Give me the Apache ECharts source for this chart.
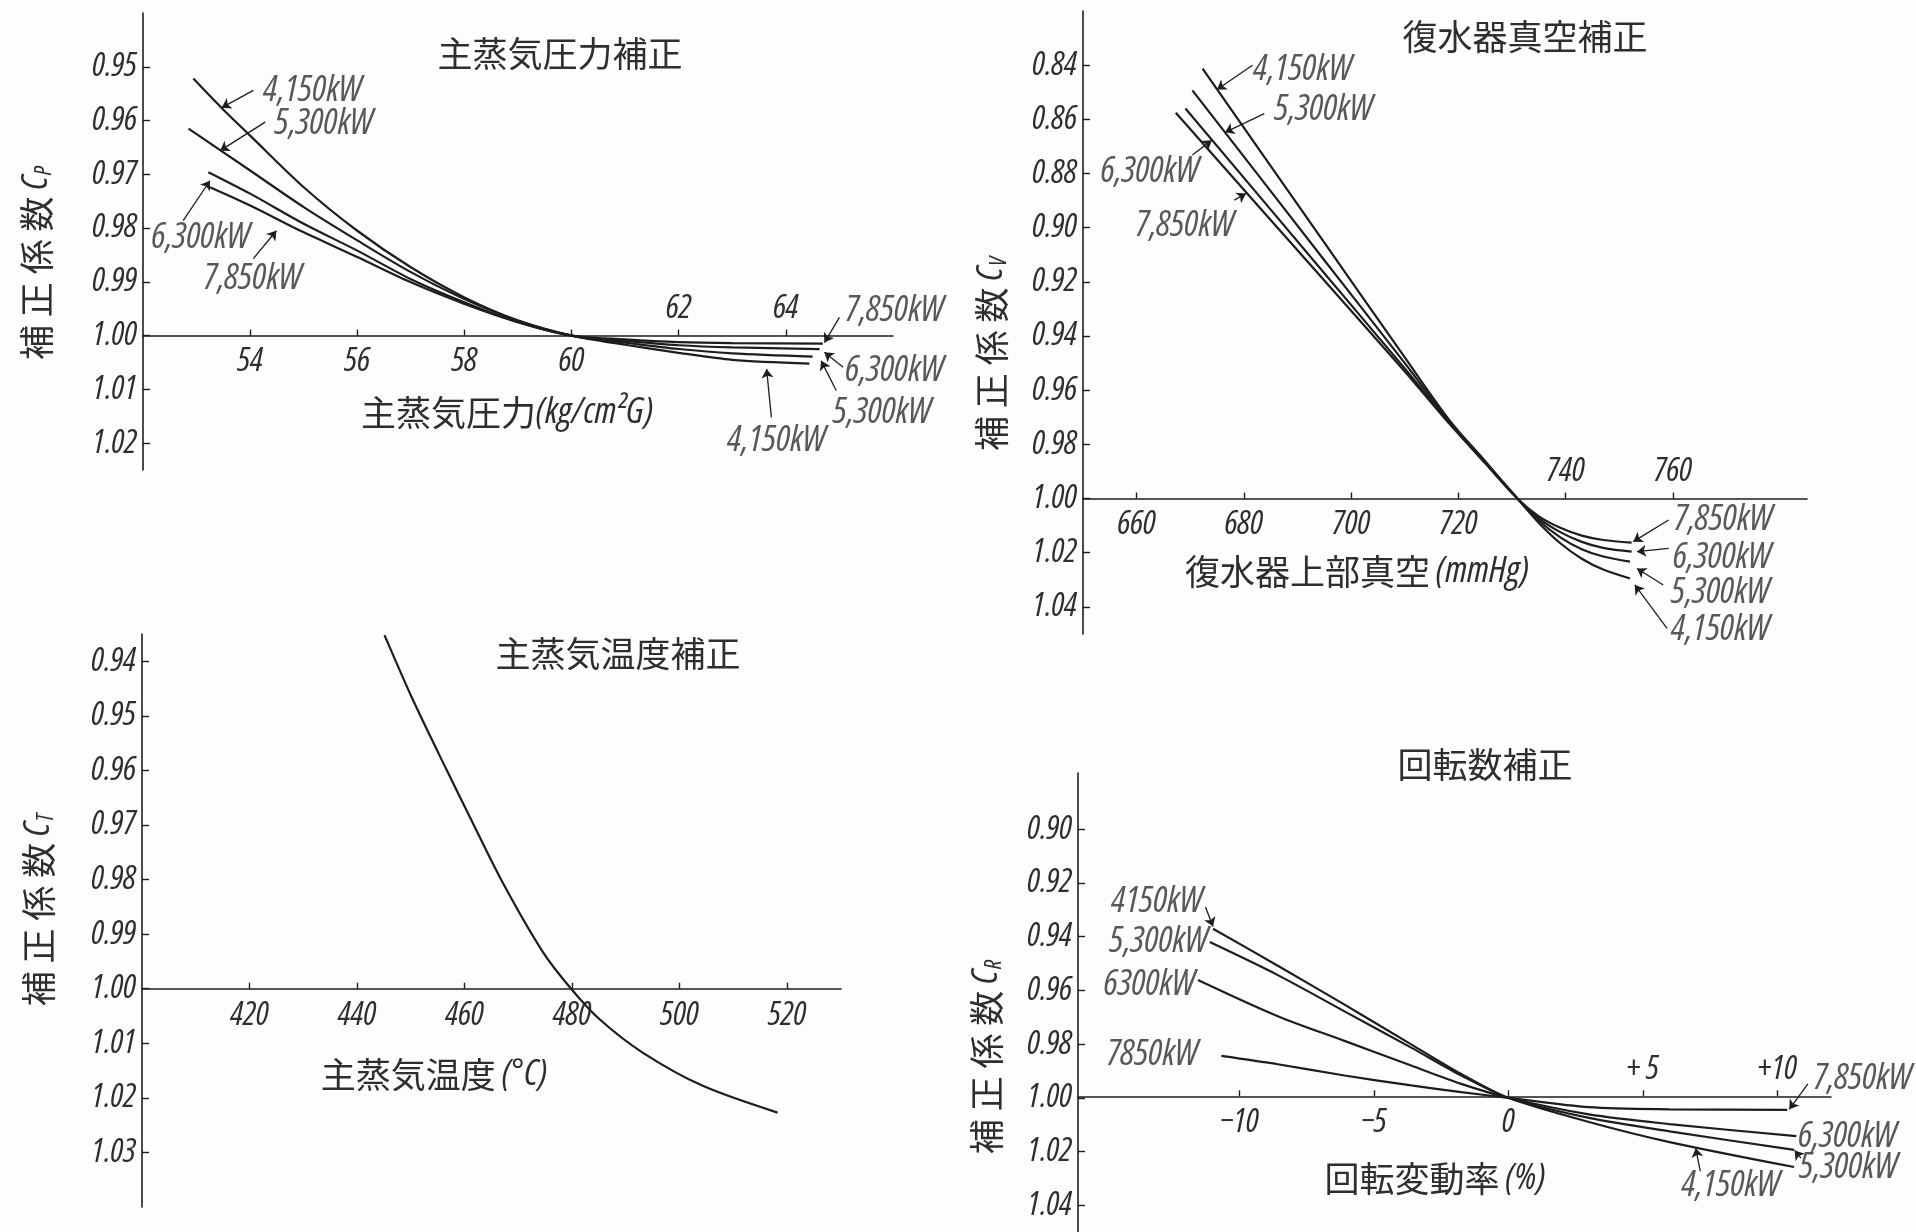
<!DOCTYPE html>
<html>
<head>
<meta charset="utf-8">
<title>補正係数曲線</title>
<script src="https://cdn.jsdelivr.net/npm/echarts@6/dist/echarts.min.js"></script>
<style>
  html, body { margin: 0; padding: 0; background: #fdfdfd; }
  #main { width: 1916px; height: 1232px; }
</style>
</head>
<body>
<div id="main"></div>
<script>
// ---- 主蒸気圧力補正 (Cp) ----
const cpX4150 = [52.94, 53.5, 54, 55, 56, 57, 58, 59, 60, 61, 62, 63, 64.44];
const cpY4150 = [0.9522, 0.958, 0.9628, 0.9724, 0.9805, 0.9873, 0.9929, 0.9972, 1.0, 1.0017, 1.0032, 1.0045, 1.0052];
const cpX5300 = [52.85, 54, 55, 56, 57, 58, 59, 60, 61, 62, 63, 64.5];
const cpY5300 = [0.9615, 0.9693, 0.9761, 0.9823, 0.9882, 0.9932, 0.9972, 1.0, 1.0013, 1.0025, 1.0033, 1.0039];
const cpX6300 = [53.22, 54, 55, 56, 57, 58, 59, 60, 61, 62, 63, 64.63];
const cpY6300 = [0.9696, 0.9736, 0.9792, 0.9842, 0.9895, 0.9938, 0.9975, 1.0, 1.001, 1.0018, 1.0022, 1.0025];
const cpX7850 = [53.25, 54, 55, 56, 57, 58, 59, 60, 61, 62, 63, 64.69];
const cpY7850 = [0.9724, 0.9758, 0.9808, 0.9854, 0.9901, 0.9941, 0.9975, 1.0, 1.0007, 1.0012, 1.0014, 1.0015];
const cpXTicks = [54, 56, 58, 60, 62, 64];
const cpXBelow = [54, 56, 58, 60];
const cpXAbove = [62, 64];
const cpYTicks = [0.95, 0.96, 0.97, 0.98, 0.99, 1.00, 1.01, 1.02];
const cpNoteText = ['4,150kW', '5,300kW', '6,300kW', '7,850kW', '7,850kW', '6,300kW', '5,300kW', '4,150kW'];
const cpNoteX = [55.17, 55.38, 53.08, 54.05, 66.03, 66.03, 65.8, 63.83];
const cpNoteY = [0.9544, 0.9606, 0.9818, 0.9894, 0.9953, 1.0065, 1.0143, 1.0195];
const cpLeadFrom = [[54.06, 0.9544], [54.28, 0.9603], [52.75, 0.9786], [54.06, 0.9857], [65.0, 0.9966], [65.07, 1.0059], [64.94, 1.0102], [63.73, 1.0152]];
const cpLeadTo = [[53.47, 0.9576], [53.44, 0.9656], [53.25, 0.9712], [54.49, 0.9805], [64.72, 1.0013], [64.72, 1.0031], [64.66, 1.0047], [63.64, 1.0062]];

// ---- 復水器真空補正 (Cv) ----
const cvX4150 = [672.3, 695, 710, 718.5, 725, 731, 735, 739, 743, 747, 752.0];
const cvY4150 = [0.8413, 0.9055, 0.9479, 0.9715, 0.9862, 1.0, 1.009, 1.0165, 1.0222, 1.0262, 1.0295];
const cvX5300 = [670.4, 695, 710, 718.5, 725, 731, 735, 739, 743, 747, 752.0];
const cvY5300 = [0.8493, 0.912, 0.950, 0.972, 0.9866, 1.0, 1.0082, 1.0143, 1.0187, 1.0214, 1.0233];
const cvX6300 = [669.1, 695, 710, 718.5, 725, 731, 735, 739, 743, 747, 752.3];
const cvY6300 = [0.856, 0.9168, 0.952, 0.9724, 0.9868, 1.0, 1.0073, 1.0124, 1.016, 1.0182, 1.0196];
const cvX7850 = [667.3, 695, 710, 718.5, 725, 731, 735, 739, 743, 747, 752.3];
const cvY7850 = [0.8576, 0.9195, 0.9531, 0.9728, 0.987, 1.0, 1.0066, 1.0108, 1.0137, 1.0153, 1.0163];
const cvXTicks = [660, 680, 700, 720, 740, 760];
const cvXBelow = [660, 680, 700, 720];
const cvXAbove = [740, 760];
const cvYTicks = [0.84, 0.86, 0.88, 0.90, 0.92, 0.94, 0.96, 0.98, 1.00, 1.02, 1.04];
const cvNoteText = ['4,150kW', '5,300kW', '6,300kW', '7,850kW', '7,850kW', '6,300kW', '5,300kW', '4,150kW'];
const cvNoteX = [691, 694.9, 662.5, 669.0, 769.4, 769.2, 768.9, 768.9];
const cvNoteY = [0.8417, 0.8566, 0.8795, 0.8994, 1.0079, 1.0217, 1.0349, 1.0485];
const cvLeadFrom = [[681.6, 0.840], [683.8, 0.8579], [670.4, 0.8732], [678.2, 0.8898], [759.2, 1.0079], [759.2, 1.0184], [758.2, 1.0319], [758.9, 1.0479]];
const cvLeadTo = [[675.0, 0.849], [676.5, 0.8648], [674.0, 0.8677], [680.4, 0.8874], [752.6, 1.0159], [753.3, 1.0196], [753.3, 1.0258], [752.9, 1.0319]];

// ---- 主蒸気温度補正 (Ct) ----
const ctX = [445.1, 450.4, 456.6, 460.9, 467.1, 474.5, 479.8, 485.1, 493.1, 504.3, 518.2];
const ctY = [0.9352, 0.9471, 0.9598, 0.9684, 0.9806, 0.9932, 1.0, 1.0056, 1.0117, 1.0178, 1.0227];
const ctXTicks = [420, 440, 460, 480, 500, 520];
const ctXBelow = [420, 440, 460, 480, 500, 520];
const ctXAbove = [];
const ctYTicks = [0.94, 0.95, 0.96, 0.97, 0.98, 0.99, 1.00, 1.01, 1.02, 1.03];

// ---- 回転数補正 (Cr) ----
const crX4150 = [-10.98, -8.57, -6.09, -3.61, -1.75, 0, 3, 6, 10.63];
const crY4150 = [0.937, 0.9508, 0.9653, 0.9801, 0.9911, 1.0, 1.009, 1.0165, 1.0258];
const crX5300 = [-11.1, -8.57, -6.09, -3.61, -1.75, 0, 3, 6, 10.63];
const crY5300 = [0.942, 0.9543, 0.9678, 0.9813, 0.9917, 1.0, 1.0075, 1.0125, 1.0194];
const crX6300 = [-11.54, -8.57, -6.09, -3.61, -1.75, 0, 3, 6, 10.71];
const crY6300 = [0.9561, 0.9696, 0.9788, 0.988, 0.9948, 1.0, 1.0062, 1.0098, 1.0143];
const crX7850 = [-10.67, -8.57, -6.09, -3.61, -1.75, 0, 3, 6, 10.37];
const crY7850 = [0.9844, 0.9875, 0.9917, 0.9954, 0.9979, 1.0, 1.0035, 1.0043, 1.0045];
const crXTicks = [-10, -5, 0, 5, 10];
const crXBelow = [-10, -5, 0];
const crXAbove = [5, 10];
const crYTicks = [0.90, 0.92, 0.94, 0.96, 0.98, 1.00, 1.02, 1.04];
const crNoteText = ['4150kW', '5,300kW', '6300kW', '7850kW', '7,850kW', '6,300kW', '5,300kW', '4,150kW'];
const crNoteX = [-13.05, -12.99, -13.34, -13.23, 13.18, 12.62, 12.66, 8.28];
const crNoteY = [0.9269, 0.9419, 0.958, 0.9838, 0.993, 1.0145, 1.0262, 1.0329];
const crLeadFrom = [[-11.26, 0.9289], [11.14, 0.9948], [10.88, 1.0225], [7.14, 1.0274]];
const crLeadTo = [[-10.98, 0.9362], [10.45, 1.0043], [10.65, 1.0196], [6.97, 1.0188]];

const ink = '#1d1d1d';
const textInk = '#2e2e2e';
const numFont = '"Liberation Sans Narrow", "Open Sans", "DejaVu Sans", sans-serif';
const cjkFont = '"Noto Sans CJK JP", sans-serif';

function zip(xs, ys) { return xs.map((x, i) => [x, ys[i]]); }

// "condensed" goes into the font shorthand as font-stretch
const numStyle = { fontFamily: numFont, fontStyle: 'italic', fontWeight: 'condensed', fontSize: 33, color: textInk };
const noteStyle = Object.assign({}, numStyle, { fontSize: 36 });

const panels = [
  { grid: { left: 143, top: 13, width: 750, height: 457 }, xMin: 52, xMax: 66, yMin: 0.94, yMax: 1.025,
    xTicks: cpXTicks, xBelow: cpXBelow, xAbove: cpXAbove, yTicks: cpYTicks, xFmt: v => String(v),
    curves: [[cpX4150, cpY4150], [cpX5300, cpY5300], [cpX6300, cpY6300], [cpX7850, cpY7850]],
    notes: [cpNoteText, cpNoteX, cpNoteY], leads: [cpLeadFrom, cpLeadTo] },
  { grid: { left: 1083, top: 11, width: 724, height: 623 }, xMin: 650, xMax: 785, yMin: 0.82, yMax: 1.05,
    xTicks: cvXTicks, xBelow: cvXBelow, xAbove: cvXAbove, yTicks: cvYTicks, xFmt: v => String(v),
    curves: [[cvX4150, cvY4150], [cvX5300, cvY5300], [cvX6300, cvY6300], [cvX7850, cvY7850]],
    notes: [cvNoteText, cvNoteX, cvNoteY], leads: [cvLeadFrom, cvLeadTo] },
  { grid: { left: 142, top: 634, width: 699, height: 573 }, xMin: 400, xMax: 530, yMin: 0.935, yMax: 1.04,
    xTicks: ctXTicks, xBelow: ctXBelow, xAbove: ctXAbove, yTicks: ctYTicks, xFmt: v => String(v),
    curves: [[ctX, ctY]], notes: null, leads: null },
  { grid: { left: 1078, top: 773, width: 753, height: 464 }, xMin: -16, xMax: 12, yMin: 0.879, yMax: 1.05,
    xTicks: crXTicks, xBelow: crXBelow, xAbove: crXAbove, yTicks: crYTicks,
    xFmt: v => v > 0 ? '+' + (v < 10 ? ' ' : '') + v : (v < 0 ? '−' + (-v) : '0'),
    curves: [[crX4150, crY4150], [crX5300, crY5300], [crX6300, crY6300], [crX7850, crY7850]],
    notes: [crNoteText, crNoteX, crNoteY], leads: [crLeadFrom, crLeadTo] }
];

const option = {
  backgroundColor: '#fdfdfd',
  animation: false,
  grid: [], xAxis: [], yAxis: [], series: [], graphic: []
};

panels.forEach((p, i) => {
  option.grid.push(p.grid);
  // the x axis sits on the 1.00 line of the (inverted) y axis
  const off = -(p.yMax - 1) / (p.yMax - p.yMin) * p.grid.height;
  option.xAxis.push({
    type: 'value', gridIndex: i, min: p.xMin, max: p.xMax, position: 'bottom', offset: off,
    axisLine: { show: true, onZero: false, lineStyle: { color: ink, width: 1.6 } },
    axisTick: { show: true, inside: true, length: 6, customValues: p.xTicks, lineStyle: { color: ink, width: 1.4 } },
    axisLabel: Object.assign({ customValues: p.xBelow, formatter: p.xFmt, margin: 10 }, numStyle),
    splitLine: { show: false }
  });
  option.xAxis.push({
    type: 'value', gridIndex: i, min: p.xMin, max: p.xMax, position: 'bottom', offset: off,
    axisLine: { show: false, onZero: false }, axisTick: { show: false },
    axisLabel: Object.assign({ show: p.xAbove.length > 0, inside: true, customValues: p.xAbove.length ? p.xAbove : [p.xMin], formatter: p.xFmt, margin: 10 }, numStyle),
    splitLine: { show: false }
  });
  option.yAxis.push({
    type: 'value', gridIndex: i, min: p.yMin, max: p.yMax, inverse: true, position: 'left',
    axisLine: { show: true, onZero: false, lineStyle: { color: ink, width: 1.6 } },
    axisTick: { show: true, inside: true, length: 7, customValues: p.yTicks, lineStyle: { color: ink, width: 1.4 } },
    axisLabel: Object.assign({ customValues: p.yTicks, formatter: v => v.toFixed(2), margin: 6 }, numStyle),
    splitLine: { show: false }
  });

  p.curves.forEach(c => {
    option.series.push({
      type: 'line', xAxisIndex: 2 * i, yAxisIndex: i, data: zip(c[0], c[1]),
      smooth: 0.3, showSymbol: false, silent: true,
      lineStyle: { color: ink, width: 2.2 }
    });
  });

  if (p.leads) {
    option.series.push({
      type: 'lines', coordinateSystem: 'cartesian2d', xAxisIndex: 2 * i, yAxisIndex: i, silent: true,
      symbol: ['none', 'arrow'], symbolSize: 9,
      lineStyle: { color: ink, width: 1.3, opacity: 1 },
      data: p.leads[0].map((f, k) => ({ coords: [f, p.leads[1][k]] }))
    });
  }
  if (p.notes) {
    option.series.push({
      type: 'scatter', xAxisIndex: 2 * i, yAxisIndex: i, silent: true, clip: false,
      symbolSize: 1, itemStyle: { color: 'rgba(0,0,0,0)' },
      label: Object.assign({ show: true, position: 'inside', formatter: '{b}' }, noteStyle),
      data: p.notes[0].map((t, k) => ({ name: t, value: [p.notes[1][k], p.notes[2][k]] }))
    });
  }
});

const rich = {
  c: { fontFamily: cjkFont, fontSize: 35, color: textInk },
  i: { fontFamily: numFont, fontStyle: 'italic', fontWeight: 'condensed', fontSize: 36, color: textInk },
  s: { fontFamily: numFont, fontStyle: 'italic', fontWeight: 'condensed', fontSize: 23, color: textInk, verticalAlign: 'bottom', padding: [14, 0, 0, 1] }
};
const texts = [
  ['{c|主蒸気圧力補正}', 560, 54, 0],
  ['{c|復水器真空補正}', 1525, 37, 0],
  ['{c|主蒸気温度補正}', 618, 654, 0],
  ['{c|回転数補正}', 1485, 765, 0],
  ['{c|主蒸気圧力}{i|(kg/cm²G)}', 507, 413, 0],
  ['{c|復水器上部真空}{i| (mmHg)}', 1357, 572, 0],
  ['{c|主蒸気温度}{i| (°C)}', 434, 1075, 0],
  ['{c|回転変動率}{i| (%)}', 1435, 1179, 0],
  ['{c|補 正 係 数}  {i|C}{s|P}', 37, 263, Math.PI / 2],
  ['{c|補 正 係 数}  {i|C}{s|V}', 992, 354, Math.PI / 2],
  ['{c|補 正 係 数}  {i|C}{s|T}', 39, 910, Math.PI / 2],
  ['{c|補 正 係 数}  {i|C}{s|R}', 987, 1057, Math.PI / 2]
];
option.graphic = texts.map(t => ({
  type: 'text', x: t[1], y: t[2], rotation: t[3], silent: true,
  style: { text: t[0], rich: rich, align: 'center', verticalAlign: 'middle', textAlign: 'center', textVerticalAlign: 'middle', fill: textInk }
}));

const chart = echarts.init(document.getElementById('main'), null, { renderer: 'canvas' });
chart.setOption(option);
</script>
</body>
</html>
